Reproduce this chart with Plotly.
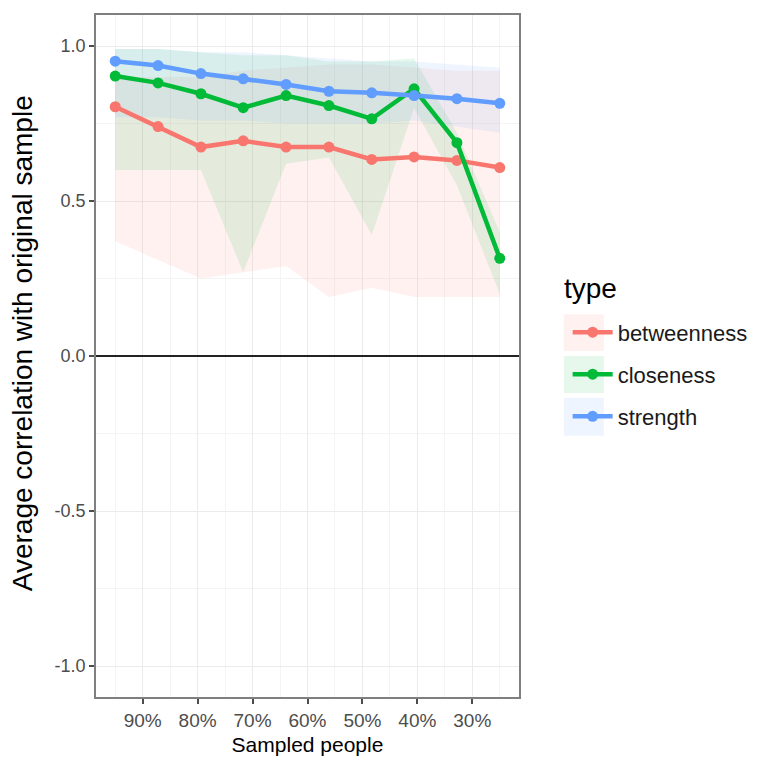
import plotly.graph_objects as go

sampled = [95, 87.2, 79.4, 71.7, 63.9, 56.1, 48.3, 40.6, 32.8, 25]
tick_vals = [90, 80, 70, 60, 50, 40, 30]
tick_text = ["90%", "80%", "70%", "60%", "50%", "40%", "30%"]

betweenness = [0.804, 0.740, 0.674, 0.694, 0.674, 0.674, 0.634, 0.642, 0.631, 0.608]
betweenness_lo = [0.37, 0.31, 0.25, 0.27, 0.29, 0.19, 0.22, 0.19, 0.19, 0.19]
betweenness_hi = [0.90, 0.90, 0.90, 0.92, 0.93, 0.94, 0.94, 0.93, 0.92, 0.92]

closeness = [0.903, 0.881, 0.846, 0.801, 0.840, 0.808, 0.765, 0.862, 0.688, 0.315]
closeness_lo = [0.60, 0.60, 0.60, 0.27, 0.62, 0.64, 0.39, 0.80, 0.55, 0.20]
closeness_hi = [0.99, 0.99, 0.98, 0.97, 0.97, 0.95, 0.95, 0.96, 0.72, 0.40]

strength = [0.951, 0.937, 0.911, 0.894, 0.876, 0.854, 0.849, 0.840, 0.830, 0.815]
strength_lo = [0.77, 0.77, 0.76, 0.76, 0.75, 0.75, 0.75, 0.76, 0.74, 0.72]
strength_hi = [0.99, 0.99, 0.98, 0.98, 0.97, 0.96, 0.95, 0.95, 0.94, 0.93]

series = [
    ("betweenness", betweenness, betweenness_lo, betweenness_hi, "#F8766D", "rgba(248,118,109,0.10)"),
    ("closeness", closeness, closeness_lo, closeness_hi, "#00BA38", "rgba(0,186,56,0.10)"),
    ("strength", strength, strength_lo, strength_hi, "#619CFF", "rgba(97,156,255,0.10)"),
]

FONT = "Liberation Sans, Arial"

fig = go.Figure()
for name, mean, lo, hi, col, fill in series:
    fig.add_trace(go.Scatter(x=sampled, y=lo, mode="lines", line=dict(width=0),
                             showlegend=False, hoverinfo="skip", legendgroup=name))
    fig.add_trace(go.Scatter(x=sampled, y=hi, mode="lines", line=dict(width=0),
                             fill="tonexty", fillcolor=fill, showlegend=False,
                             hoverinfo="skip", legendgroup=name))
for name, mean, lo, hi, col, fill in series:
    fig.add_trace(go.Scatter(x=sampled, y=mean, mode="lines+markers", name=name,
                             legendgroup=name,
                             line=dict(color=col, width=4.5),
                             marker=dict(color=col, size=11)))

fig.add_hline(y=0, line=dict(color="#222222", width=2))

axis_common = dict(showline=True, linecolor="#7f7f7f", linewidth=1.5, mirror=True,
                   showgrid=True, gridcolor="#ebebeb", gridwidth=1,
                   ticks="outside", ticklen=5, tickcolor="#4d4d4d", tickwidth=1.5,
                   zeroline=False)

fig.update_xaxes(range=[98.5, 21.5], tickvals=tick_vals, ticktext=tick_text,
                 tickfont=dict(family=FONT, size=19, color="#4d4d4d"),
                 title=dict(text="Sampled people", standoff=8,
                            font=dict(family=FONT, size=21, color="black")),
                 minor=dict(showgrid=True, gridcolor="#f4f4f4", tickvals=[95, 85, 75, 65, 55, 45, 35, 25]),
                 **axis_common)
fig.update_yaxes(range=[-1.1, 1.1], tickvals=[-1, -0.5, 0, 0.5, 1],
                 ticktext=["-1.0", "-0.5", "0.0", "0.5", "1.0"],
                 tickfont=dict(family=FONT, size=18, color="#4d4d4d"),
                 minor=dict(showgrid=True, gridcolor="#f4f4f4", tickvals=[-0.75, -0.25, 0.25, 0.75]),
                 **axis_common)

# y-axis title placed as rotated annotation
fig.add_annotation(text="Average correlation with original sample", textangle=-90,
                   xref="paper", yref="paper", x=-0.1745, y=0.519,
                   xanchor="center", yanchor="middle", showarrow=False,
                   font=dict(family=FONT, size=28, color="black"))

# legend title
fig.add_annotation(text="type", xref="paper", yref="paper", x=1.1014, y=0.5994,
                   xanchor="left", yanchor="middle", showarrow=False,
                   font=dict(family=FONT, size=28, color="black"))

# faint legend key backgrounds
key_boxes = [("rgba(248,118,109,0.10)", 0.5614, 0.5073),
             ("rgba(0,186,56,0.10)", 0.5000, 0.4459),
             ("rgba(97,156,255,0.10)", 0.4386, 0.3830)]
for fc, y1, y0 in key_boxes:
    fig.add_shape(type="rect", xref="paper", yref="paper", x0=1.106, x1=1.2005,
                  y0=y0, y1=y1, fillcolor=fc, line=dict(width=0), layer="below")

fig.update_layout(
    width=750, height=757,
    margin=dict(l=88, r=238, t=5, b=68),
    plot_bgcolor="white", paper_bgcolor="white",
    font=dict(family=FONT),
    legend=dict(x=1.115, y=0.5655, xanchor="left", yanchor="top",
                font=dict(size=22, color="#1a1a1a"), bgcolor="rgba(0,0,0,0)",
                tracegroupgap=10.5, traceorder="grouped", itemwidth=40),
)

fig.write_html("out.html")
